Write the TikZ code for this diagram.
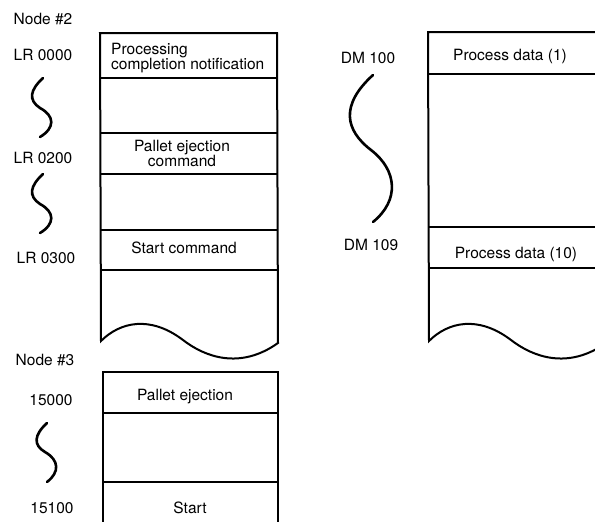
\documentclass[tikz,border=0pt]{standalone}
\usepackage{fontspec}
\setmainfont{TeX Gyre Heros}
\begin{document}
\begin{tikzpicture}[x=1pt, y=-1pt]

  % Styles
  \tikzset{
    lbl/.style={inner sep=0pt, anchor=base, font=\fontsize{15.5}{15}\selectfont},
    cell/.style={inner sep=0pt, anchor=base, align=center, font=\fontsize{15.5}{15}\selectfont},
    memline/.style={line width=2pt},
    brk/.style={line width=2.6pt, line cap=round}
  }

  \useasboundingbox (0,0) rectangle (595,522);

  % Node #2 link relay area
  \node[lbl] (n2) at (43,24) {Node \#2};
  \node[lbl] (lr0) at (43,60) {LR 0000};
  \node[lbl] (lr200) at (43,163) {LR 0200};
  \node[lbl] (lr300) at (46,263) {LR 0300};

  \draw[memline] (101,341) -- (100,33) -- (277,33) -- (278,343)
    .. controls (240,370) and (205,357) .. (183,340)
    .. controls (150,315) and (120,322) .. (101,341) -- cycle;
  \draw[memline] (100,78) -- (277,78) (100,133) -- (277,133) (100,174) -- (277,174)
    (100,230) -- (277,230) (100,270) -- (277,270);

  \node[cell, anchor=north west, align=left] (c_done) at (111,43) {Processing\\completion notification};
  \node[cell, anchor=north] (c_eject) at (182,140) {Pallet ejection\\command};
  \node[cell] (c_start) at (184,253) {Start command};

  % Breaks between the LR addresses
  \draw[brk] (43,78) .. controls (30,90) and (28,100) .. (40,108)
    .. controls (55,116) and (55,128) .. (40,137);
  \draw[brk] (43,174) .. controls (30,186) and (28,196) .. (40,204)
    .. controls (55,212) and (55,224) .. (40,233);

  % DM area
  \node[lbl] (dm100) at (368,63) {DM 100};
  \node[lbl] (dm109) at (371,250) {DM 109};

  \draw[memline] (429,341) -- (428,32) -- (606,32) -- (606,343)
    .. controls (568,370) and (533,357) .. (511,340)
    .. controls (478,315) and (448,322) .. (429,341) -- cycle;
  \draw[memline] (428,74) -- (606,74) (428,227) -- (606,227) (428,268) -- (606,268);

  \node[cell] (c_data1) at (510,60) {Process data (1)};
  \node[cell] (c_data10) at (516,258) {Process data (10)};

  \draw[brk] (373,75) .. controls (340,105) and (345,130) .. (371,150)
    .. controls (397,170) and (400,200) .. (373,222);

  % Node #3
  \node[lbl] (n3) at (45,365) {Node \#3};
  \node[lbl] (a15000) at (51,405) {15000};
  \node[lbl] (a15100) at (52,513) {15100};

  \draw[memline] (103,530) -- (103,372) -- (278,372) -- (278,530);
  \draw[memline] (103,413) -- (278,413) (103,482) -- (278,482);

  \node[cell] (c_eject3) at (185,400) {Pallet ejection};
  \node[cell] (c_start3) at (190,513) {Start};

  \draw[brk] (47,423) .. controls (34,435) and (33,445) .. (45,452)
    .. controls (59,460) and (60,472) .. (47,482);

\end{tikzpicture}
\end{document}
